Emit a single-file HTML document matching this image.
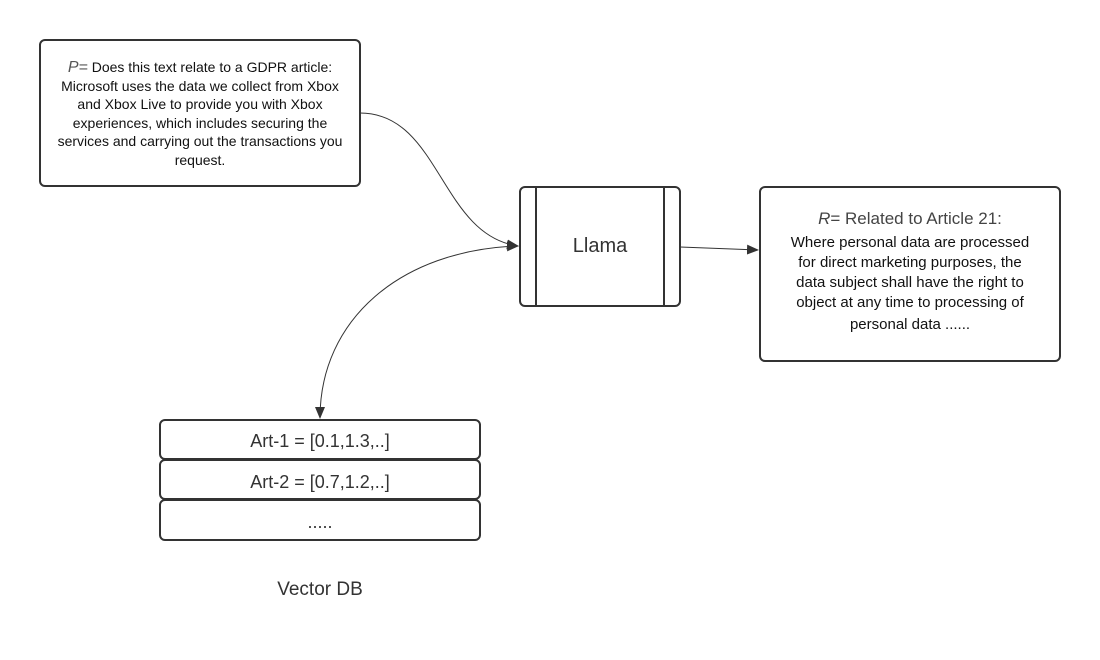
<!DOCTYPE html>
<html><head><meta charset="utf-8"><style>
html,body{margin:0;padding:0;background:#fff;}
svg{display:block;font-family:"Liberation Sans",Arial,sans-serif;}
</style></head><body>
<svg width="1100" height="660" viewBox="0 0 1100 660" xmlns="http://www.w3.org/2000/svg">
<defs>
<marker id="a" markerWidth="12" markerHeight="10" refX="11" refY="5" orient="auto" markerUnits="userSpaceOnUse">
<path d="M0,0 L12,5 L0,10 Z" fill="#333"/></marker>
<marker id="s" markerWidth="12" markerHeight="10" refX="11" refY="5" orient="auto-start-reverse" markerUnits="userSpaceOnUse">
<path d="M0,0 L12,5 L0,10 Z" fill="#333"/></marker>
</defs>
<g fill="#fff" stroke="#333" stroke-width="2">
<rect x="40" y="40" width="320" height="146" rx="5"/>
<rect x="520" y="187" width="160" height="119" rx="5"/>
<line x1="536" y1="187" x2="536" y2="306"/>
<line x1="664" y1="187" x2="664" y2="306"/>
<rect x="760" y="187" width="300" height="174" rx="5"/>
<rect x="160" y="420" width="320" height="39" rx="5"/>
<rect x="160" y="460" width="320" height="39" rx="5"/>
<rect x="160" y="500" width="320" height="40" rx="5"/>
</g>
<g fill="none" stroke="#333" stroke-width="1">
<path d="M360,113 C440,113 440,235 518,246" marker-end="url(#a)"/>
<path d="M680,247 L758,250" marker-end="url(#a)"/>
<path d="M518,246 C400,250 320,320 320,418" marker-start="url(#s)" marker-end="url(#a)"/>
</g>
<g fill="#111" font-size="14" text-anchor="middle">
<text x="200" y="72"><tspan font-style="italic" fill="#555" font-size="16">P=</tspan> Does this text relate to a GDPR article:</text>
<text x="200" y="91">Microsoft uses the data we collect from Xbox</text>
<text x="200" y="109">and Xbox Live to provide you with Xbox</text>
<text x="200" y="128">experiences, which includes securing the</text>
<text x="200" y="146">services and carrying out the transactions you</text>
<text x="200" y="165">request.</text>
</g>
<text x="600" y="252" font-size="20" fill="#333" text-anchor="middle">Llama</text>
<g fill="#111" font-size="15" text-anchor="middle">
<text x="910" y="224" font-size="17" fill="#444"><tspan font-style="italic">R</tspan>= Related to Article 21:</text>
<text x="910" y="247">Where personal data are processed</text>
<text x="910" y="267">for direct marketing purposes, the</text>
<text x="910" y="287">data subject shall have the right to</text>
<text x="910" y="307">object at any time to processing of</text>
<text x="910" y="329">personal data ......</text>
</g>
<g fill="#333" font-size="18" text-anchor="middle">
<text x="320" y="447">Art-1 = [0.1,1.3,..]</text>
<text x="320" y="488">Art-2 = [0.7,1.2,..]</text>
<text x="320" y="528">.....</text>
<text x="320" y="595" font-size="19">Vector DB</text>
</g>
</svg>
</body></html>
